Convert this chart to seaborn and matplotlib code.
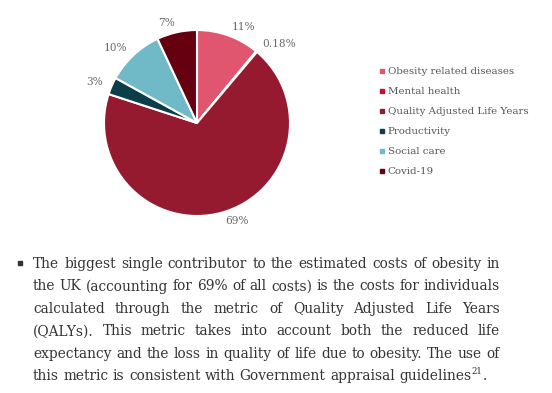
import matplotlib
matplotlib.use("Agg")
import matplotlib.pyplot as plt
import seaborn as sns
from matplotlib.lines import Line2D

# --- data ---
categories = ["Obesity related diseases", "Mental health", "Quality Adjusted Life Years",
              "Productivity", "Social care", "Covid-19"]
shares = [11, 0.18, 69, 3, 10, 7]
share_labels = ["11%", "0.18%", "69%", "3%", "10%", "7%"]
colors = ["#E0566E", "#C8102E", "#951A30", "#0C3D4A", "#6FBAC6", "#650010"]

paragraph_lines = [
    "The biggest single contributor to the estimated costs of obesity in",
    "the UK (accounting for 69% of all costs) is the costs for individuals",
    "calculated through the metric of Quality Adjusted Life Years",
    "(QALYs). This metric takes into account both the reduced life",
    "expectancy and the loss in quality of life due to obesity. The use of",
    "this metric is consistent with Government appraisal guidelines",
]

sns.set_theme(style="white")
plt.rcParams["font.family"] = ["DejaVu Serif"]

W, H = 552, 393
fig = plt.figure(figsize=(W / 100, H / 100), dpi=100)
fig.patch.set_facecolor("white")

# --- pie ---
cx, cy, r = 197, 123, 93
ax = fig.add_axes([(cx - r) / W, 1 - (cy + r) / H, 2 * r / W, 2 * r / H])
wedges, texts = ax.pie(shares, labels=share_labels, colors=colors, startangle=90,
                       counterclock=False, labeldistance=1.1,
                       wedgeprops=dict(edgecolor="white", linewidth=1.5),
                       textprops=dict(color="#6a6a6a", fontsize=7.6))
ax.set_xlim(-1, 1)
ax.set_ylim(-1, 1)
ax.set_aspect("equal")
ax.axis("off")

# --- legend ---
handles = [Line2D([], [], marker="s", linestyle="none", markersize=2.6,
                  markerfacecolor=c, markeredgecolor=c) for c in colors]
fig.legend(handles, categories, loc="upper left", bbox_to_anchor=(379 / W, 1 - 67 / H),
           frameon=False, fontsize=7.4, handlelength=0.55, handletextpad=0.3,
           labelspacing=1.05, labelcolor="#555555", borderaxespad=0, borderpad=0)

# --- paragraph (justified) ---
txt_color = "#333333"
left, right = 33, 500
y0, dy = 264, 22.4
fig.add_artist(plt.Line2D([20 / W], [1 - 263 / H], marker="s", markersize=3.2,
                          color="#333333", transform=fig.transFigure))
fig.canvas.draw()
renderer = fig.canvas.get_renderer()

# pick font size so the first line fits the column
probe = fig.text(0, 0, paragraph_lines[0], fontsize=10)
fs = 10 * (right - left) / probe.get_window_extent(renderer).width * 0.985
probe.remove()

def width_of(s, size):
    t = fig.text(0, 0, s, fontsize=size)
    w = t.get_window_extent(renderer).width
    t.remove()
    return w

space = width_of("a b", fs) - width_of("ab", fs)

for i, line in enumerate(paragraph_lines):
    y = 1 - (y0 + i * dy) / H
    words = line.split(" ")
    objs = [fig.text(0, y, w, fontsize=fs, color=txt_color, va="center") for w in words]
    widths = [o.get_window_extent(renderer).width for o in objs]
    last = i == len(paragraph_lines) - 1
    gap = space if last else (right - left - sum(widths)) / (len(words) - 1)
    x = left
    for o, w in zip(objs, widths):
        o.set_x(x / W)
        x += w + gap
    if last:
        x -= gap
        sup = fig.text((x + 0.5) / W, y + 4 / H, "21", fontsize=fs * 0.62,
                       color=txt_color, va="center")
        sw = sup.get_window_extent(renderer).width
        fig.text((x + sw + 1) / W, y, ".", fontsize=fs, color=txt_color, va="center")

fig.savefig("out.png", dpi=100, facecolor="white")
